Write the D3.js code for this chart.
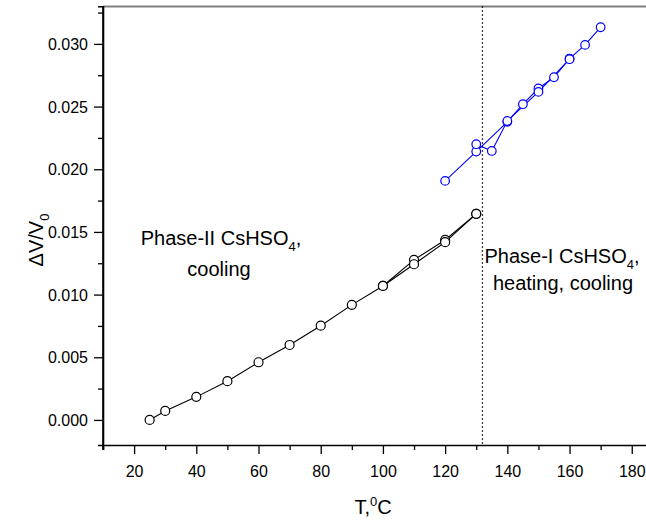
<!DOCTYPE html>
<html>
<head>
<meta charset="utf-8">
<script src="https://cdn.jsdelivr.net/npm/d3@7/dist/d3.min.js"></script>
<style>
  body { margin: 0; background: #fff; }
  svg { display: block; font-family: "Liberation Sans", Arial, sans-serif; }
</style>
</head>
<body>
<div id="chart"></div>
<script>
// Phase-II, cooling (black)
const phase2T = [25, 30, 40, 50, 60, 70, 80, 90, 100, 110, 120, 130];
const phase2V = [0.0000, 0.00072, 0.00184, 0.00309, 0.00460, 0.00598, 0.00752, 0.00918, 0.01069, 0.01277, 0.01436, 0.01644];
// Phase-II return branch
const phase2bT = [130, 120, 110, 100];
const phase2bV = [0.01644, 0.01418, 0.01242, 0.01069];

// Phase-I heating (blue)
const heatT = [120, 130, 140, 145, 150, 155, 160, 165, 170];
const heatV = [0.01907, 0.02141, 0.02378, 0.02519, 0.02644, 0.02734, 0.02883, 0.02992, 0.03133];
// Phase-I cooling (blue)
const coolT = [160, 150, 140, 135, 130];
const coolV = [0.02878, 0.02617, 0.02385, 0.02146, 0.02200];

const xTicks = [20, 40, 60, 80, 100, 120, 140, 160, 180];
const yTicks = [0.000, 0.005, 0.010, 0.015, 0.020, 0.025, 0.030];
const transitionT = 132;

const W = 646, H = 521;
const svg = d3.select("#chart").append("svg")
    .attr("width", W)
    .attr("height", H);

svg.append("rect").attr("width", W).attr("height", H).attr("fill", "#fff");

const x = d3.scaleLinear().domain([10, 185]).range([103, 647.3]);
const y = d3.scaleLinear().domain([-0.002, 0.033]).range([445, 6.3]);

// top frame line (grey)
svg.append("line")
    .attr("x1", 103).attr("x2", W)
    .attr("y1", 6.5).attr("y2", 6.5)
    .attr("stroke", "#808080")
    .attr("stroke-width", 2);

// transition line
svg.append("line")
    .attr("x1", x(transitionT)).attr("x2", x(transitionT))
    .attr("y1", y(0.033)).attr("y2", y(-0.002))
    .attr("stroke", "#000")
    .attr("stroke-width", 1.3)
    .attr("stroke-dasharray", "1.5,2.5");

// X axis
const xAxis = svg.append("g").attr("transform", `translate(0,${y(-0.002)})`);
xAxis.call(d3.axisBottom(x).tickValues(d3.range(10, 190, 10)).tickSize(5).tickFormat(""));
xAxis.call(g => g.selectAll(".tick").filter(d => d % 20 === 0).select("line").attr("y2", 9));
xAxis.selectAll(".tick").filter(d => xTicks.includes(d)).append("text")
    .attr("y", 21).attr("dy", "0.71em")
    .attr("fill", "#000").attr("text-anchor", "middle")
    .style("font-size", "16px")
    .text(d => d);

// Y axis
const yAxis = svg.append("g").attr("transform", `translate(${x(10)},0)`);
yAxis.call(d3.axisLeft(y).tickValues(d3.range(0, 0.0326, 0.0025)).tickSize(5).tickFormat(""));
yAxis.call(g => g.selectAll(".tick").filter((d, i) => i % 2 === 0).select("line").attr("x2", -9));
yAxis.selectAll(".tick").filter((d, i) => i % 2 === 0).append("text")
    .attr("x", -15).attr("dy", "0.35em")
    .attr("fill", "#000").attr("text-anchor", "end")
    .style("font-size", "16px")
    .text(d => d3.format(".3f")(d));

svg.selectAll(".domain").attr("stroke", "#000").attr("stroke-width", 1.6);
svg.selectAll(".tick line").attr("stroke", "#000").attr("stroke-width", 1.3);

// left axis line full height
svg.append("line")
    .attr("x1", x(10)).attr("x2", x(10))
    .attr("y1", y(0.033)).attr("y2", y(-0.002) + 5)
    .attr("stroke", "#000").attr("stroke-width", 1.6);

function drawSeries(ts, vs, color) {
    const pts = ts.map((t, i) => ({t, v: vs[i]}));
    const line = d3.line().x(d => x(d.t)).y(d => y(d.v));
    svg.append("path")
        .datum(pts)
        .attr("fill", "none")
        .attr("stroke", color)
        .attr("stroke-width", 1.1)
        .attr("d", line);
    return pts;
}

const blackPts = drawSeries(phase2T, phase2V, "#000")
    .concat(drawSeries(phase2bT, phase2bV, "#000"));
const bluePts = drawSeries(heatT, heatV, "#0000ff")
    .concat(drawSeries(coolT, coolV, "#0000ff"));

svg.selectAll("circle.black").data(blackPts).enter().append("circle")
    .attr("class", "black")
    .attr("cx", d => x(d.t)).attr("cy", d => y(d.v)).attr("r", 4.5)
    .attr("fill", "#fff").attr("stroke", "#000").attr("stroke-width", 1.2);

svg.selectAll("circle.blue").data(bluePts).enter().append("circle")
    .attr("class", "blue")
    .attr("cx", d => x(d.t)).attr("cy", d => y(d.v)).attr("r", 4.3)
    .attr("fill", "#fff").attr("stroke", "#0000ff").attr("stroke-width", 1.2);

// annotations
function formula(el, pre, sub, post) {
    el.append("tspan").text(pre);
    el.append("tspan").attr("dy", 6).style("font-size", "13px").text(sub);
    el.append("tspan").attr("dy", -6).text(post);
}

const t1 = svg.append("text").attr("x", 221).attr("y", 245)
    .attr("text-anchor", "middle").style("font-size", "20px");
formula(t1, "Phase-II CsHSO", "4", ",");
svg.append("text").attr("x", 219).attr("y", 276)
    .attr("text-anchor", "middle").style("font-size", "20px").text("cooling");

const t2 = svg.append("text").attr("x", 562).attr("y", 263)
    .attr("text-anchor", "middle").style("font-size", "20px");
formula(t2, "Phase-I CsHSO", "4", ",");
svg.append("text").attr("x", 563).attr("y", 290)
    .attr("text-anchor", "middle").style("font-size", "20px").text("heating, cooling");

// axis titles
const xt = svg.append("text").attr("x", 373).attr("y", 514)
    .attr("text-anchor", "middle").style("font-size", "20px");
xt.append("tspan").text("T,");
xt.append("tspan").attr("dy", -8).style("font-size", "13px").text("0");
xt.append("tspan").attr("dy", 8).text("C");

const yt = svg.append("text")
    .attr("transform", "translate(43,240) rotate(-90)")
    .attr("text-anchor", "middle").style("font-size", "20px");
yt.append("tspan").text("\u0394V/V");
yt.append("tspan").attr("dy", 6).style("font-size", "13px").text("0");
</script>
</body>
</html>
